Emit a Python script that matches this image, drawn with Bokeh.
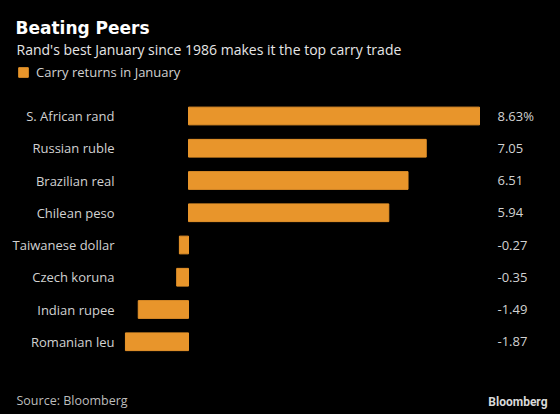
from bokeh.plotting import figure
from bokeh.models import Label, Legend, LegendItem, Range1d, GlobalInlineStyleSheet, ColumnDataSource
from bokeh.core.properties import value
from bokeh.embed import file_html
from bokeh.resources import INLINE

currencies = ["S. African rand", "Russian ruble", "Brazilian real", "Chilean peso",
              "Taiwanese dollar", "Czech koruna", "Indian rupee", "Romanian leu"]
returns = [8.63, 7.05, 6.51, 5.94, -0.27, -0.35, -1.49, -1.87]
value_labels = ["8.63%", "7.05", "6.51", "5.94", "-0.27", "-0.35", "-1.49", "-1.87"]

title = "Beating Peers"
subtitle = "Rand's best January since 1986 makes it the top carry trade"
series_name = "Carry returns in January"
source_text = "Source: Bloomberg"

FONT = "Open Sans"
BAR = "#e8952b"
LABEL = "#d2d2d2"

W, H = 560, 414
# layout: pixel scale of the value axis and row spacing
X_PPU = 33.72      # px per percentage point
ZERO_PX = 188      # where 0 sits
ROW_PX = 32.25     # row spacing
FIRST_ROW_PX = 115.5

x_start = -ZERO_PX / X_PPU
x_end = (W - ZERO_PX) / X_PPU
y_top = -FIRST_ROW_PX / ROW_PX
y_bottom = (H - FIRST_ROW_PX) / ROW_PX

cat_label_x = (114 - ZERO_PX) / X_PPU
val_label_x = (497 - ZERO_PX) / X_PPU

rows = list(range(len(currencies)))
src = ColumnDataSource(dict(row=rows, cur=currencies, ret=returns, val=value_labels,
                            cx=[cat_label_x] * len(rows), vx=[val_label_x] * len(rows)))

p = figure(width=W, height=H, output_backend="svg", toolbar_location=None,
           x_range=Range1d(x_start, x_end), y_range=Range1d(y_bottom, y_top),
           background_fill_color="black", border_fill_color="black",
           min_border=0, outline_line_color=None)
p.stylesheets = [GlobalInlineStyleSheet(css="html, body { background: #000000; margin: 0; }")]
p.axis.visible = False
p.grid.visible = False

r = p.hbar(y="row", right="ret", left=0, height=0.55, color=BAR, source=src)

p.text(x="cx", y="row", text="cur", source=src, text_align="right", text_baseline="middle",
       text_color=LABEL, text_font=value(FONT), text_font_size="13px")
p.text(x="vx", y="row", text="val", source=src, text_align="left", text_baseline="middle",
       text_color=LABEL, text_font=value(FONT), text_font_size="13px")

legend = Legend(items=[LegendItem(label=value(series_name), renderers=[r])],
                location=(17, H - 81), orientation="horizontal",
                background_fill_alpha=0, border_line_color=None,
                padding=0, margin=0, glyph_width=12, glyph_height=12,
                label_height=12, label_standoff=7,
                label_text_color=LABEL, label_text_font=FONT,
                label_text_font_size="13px")
p.add_layout(legend, "center")

p.add_layout(Label(x=15, y=H - 27, x_units="screen", y_units="screen", text=title,
                   text_color="white", text_font="DejaVu Sans", text_font_style="bold",
                   text_font_size="17px", text_baseline="middle"))
p.add_layout(Label(x=16, y=H - 49, x_units="screen", y_units="screen", text=subtitle,
                   text_color="#e6e6e6", text_font=FONT,
                   text_font_size="14px", text_baseline="middle"))
p.add_layout(Label(x=16, y=H - 400, x_units="screen", y_units="screen", text=source_text,
                   text_color="#bdbdbd", text_font=FONT,
                   text_font_size="12.5px", text_baseline="middle"))
p.add_layout(Label(x=547, y=H - 401, x_units="screen", y_units="screen", text="Bloomberg",
                   text_color="#d9d9d9", text_font="Roboto", text_font_style="bold",
                   text_font_size="12px", text_align="right", text_baseline="middle"))

open("out.html", "w").write(file_html(p, INLINE))
